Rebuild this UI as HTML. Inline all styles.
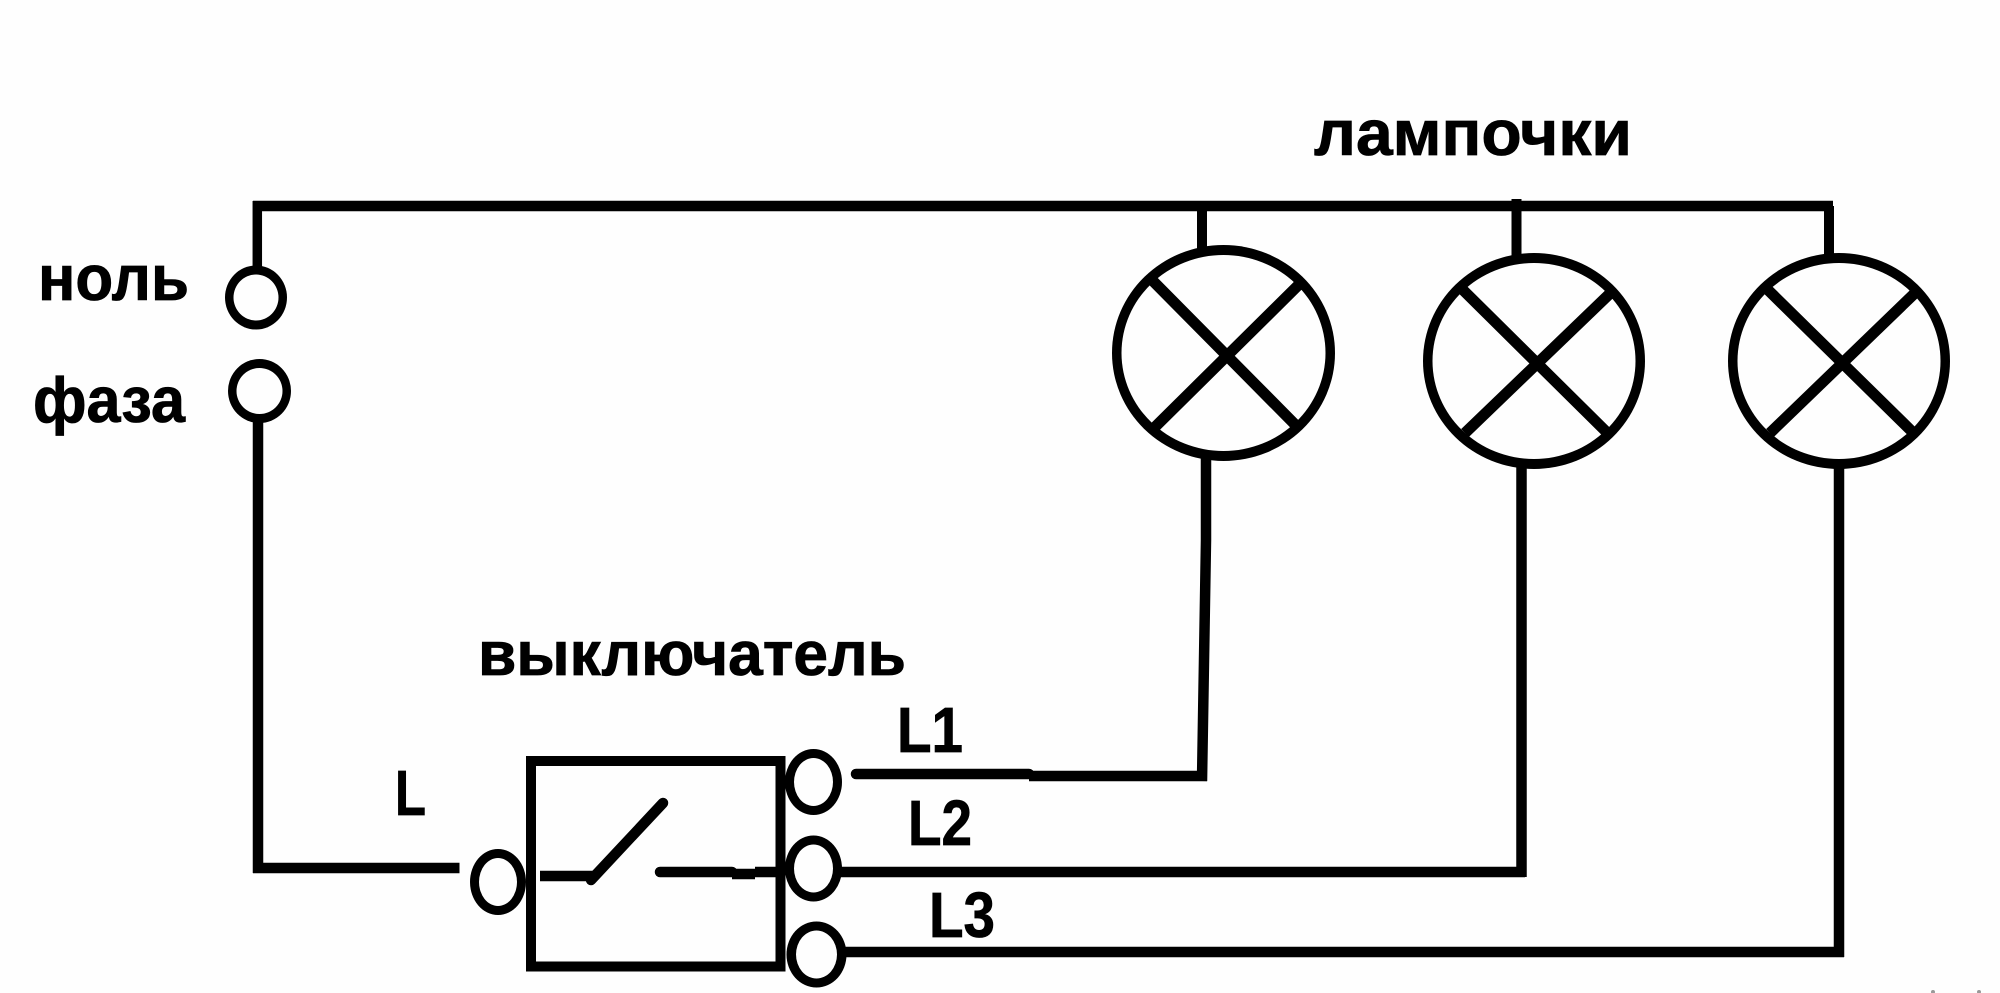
<!DOCTYPE html>
<html lang="ru">
<head>
<meta charset="utf-8">
<title>Схема</title>
<style>
html,body{margin:0;padding:0;background:#fefefe;width:2000px;height:993px;overflow:hidden}
svg{display:block}
text{font-family:"Liberation Sans",sans-serif;font-weight:bold;fill:#000;stroke:#000;stroke-width:.8px}
.o{fill:#000;stroke:none}
.i{fill:#fefefe;stroke:none}
</style>
</head>
<body>
<svg width="2000" height="993" viewBox="0 0 2000 993" xmlns="http://www.w3.org/2000/svg">
<rect width="2000" height="993" fill="#fefefe"/>
<g fill="none" stroke="#000" stroke-linejoin="miter">
  <!-- neutral bus -->
  <path d="M253 206H1833" stroke-width="10.500"/>
  <path d="M257.300 201V270" stroke-width="9.500"/>
  <path d="M1202 206V250M1516.500 199V256M1829 206V256" stroke-width="10"/>
  <!-- phase -->
  <path d="M258 420V873" stroke-width="10.500"/>
  <path d="M253 868H459.500" stroke-width="10.500"/>
  <!-- L1 -->
  <path d="M856 774H1029" stroke-width="10.500" stroke-linecap="round"/>
  <path d="M1029 776H1207" stroke-width="10.500"/>
  <path d="M1206 458V540L1202 781" stroke-width="10.500"/>
  <!-- L2 -->
  <path d="M835 872H1525" stroke-width="10.500"/>
  <path d="M1521.500 465V877" stroke-width="10.500"/>
  <!-- L3 -->
  <path d="M840 952H1844" stroke-width="10.500"/>
  <path d="M1839 465V957" stroke-width="10.500"/>
  <!-- switch box -->
  <rect x="531" y="761" width="249.500" height="205.500" stroke-width="10"/>
  <!-- switch contacts -->
  <path d="M540 876H595" stroke-width="10.500"/>
  <path d="M591 880L663 803" stroke-width="10.500" stroke-linecap="round"/>
  <path d="M660 872H732" stroke-width="10.500" stroke-linecap="round"/>
  <path d="M732 874H755" stroke-width="10.500"/>
  <path d="M755 872H785" stroke-width="10.500"/>
</g>
<!-- terminals -->
<ellipse class="o" cx="256" cy="297.500" rx="31" ry="32"/><ellipse class="i" cx="256" cy="297.500" rx="22.500" ry="23"/>
<ellipse class="o" cx="259.500" cy="391" rx="31.500" ry="32"/><ellipse class="i" cx="259.500" cy="391" rx="23" ry="23"/>
<ellipse class="o" cx="498" cy="882" rx="28" ry="33"/><ellipse class="i" cx="498" cy="882" rx="19" ry="24"/>
<ellipse class="o" cx="813.500" cy="782" rx="28.500" ry="33"/><ellipse class="i" cx="813.500" cy="782" rx="19.500" ry="24"/>
<ellipse class="o" cx="813.500" cy="868.500" rx="28.500" ry="33"/><ellipse class="i" cx="813.500" cy="868.500" rx="19.500" ry="24"/>
<ellipse class="o" cx="816.500" cy="954.500" rx="30" ry="33"/><ellipse class="i" cx="816.500" cy="954.500" rx="20.500" ry="24"/>
<!-- lamps -->
<ellipse class="o" cx="1223.500" cy="353" rx="111.500" ry="108"/><ellipse class="i" cx="1223.500" cy="353" rx="102" ry="98"/>
<ellipse class="o" cx="1534" cy="361" rx="111" ry="108"/><ellipse class="i" cx="1534" cy="361" rx="101.500" ry="98"/>
<ellipse class="o" cx="1839" cy="361" rx="111" ry="108"/><ellipse class="i" cx="1839" cy="361" rx="101.500" ry="98"/>
<g fill="none" stroke="#000" stroke-width="11">
  <path d="M1150 278L1295.500 425M1298.500 285L1154 428"/>
  <path d="M1460 287L1607.500 433M1610.500 293L1465 433"/>
  <path d="M1765 287L1913.500 433M1915 293L1770 433"/>
</g>
<!-- labels -->
<text x="38" y="300" font-size="64" textLength="151" lengthAdjust="spacingAndGlyphs">ноль</text>
<text x="33" y="422" font-size="64" textLength="152" lengthAdjust="spacingAndGlyphs">фаза</text>
<text x="1314" y="155" font-size="64" textLength="318" lengthAdjust="spacingAndGlyphs">лампочки</text>
<text x="478" y="675" font-size="62" textLength="428" lengthAdjust="spacingAndGlyphs">выключатель</text>
<text x="395" y="815" font-size="64" textLength="31" lengthAdjust="spacingAndGlyphs">L</text>
<text x="897" y="752" font-size="64" textLength="66" lengthAdjust="spacingAndGlyphs">L1</text>
<text x="908" y="845" font-size="64" textLength="64" lengthAdjust="spacingAndGlyphs">L2</text>
<text x="929" y="937" font-size="64" textLength="66" lengthAdjust="spacingAndGlyphs">L3</text>
<!-- faint marks in the corner -->
<circle cx="1933" cy="992" r="2" fill="#999"/>
<circle cx="1979" cy="992" r="2" fill="#999"/>
</svg>
</body>
</html>
